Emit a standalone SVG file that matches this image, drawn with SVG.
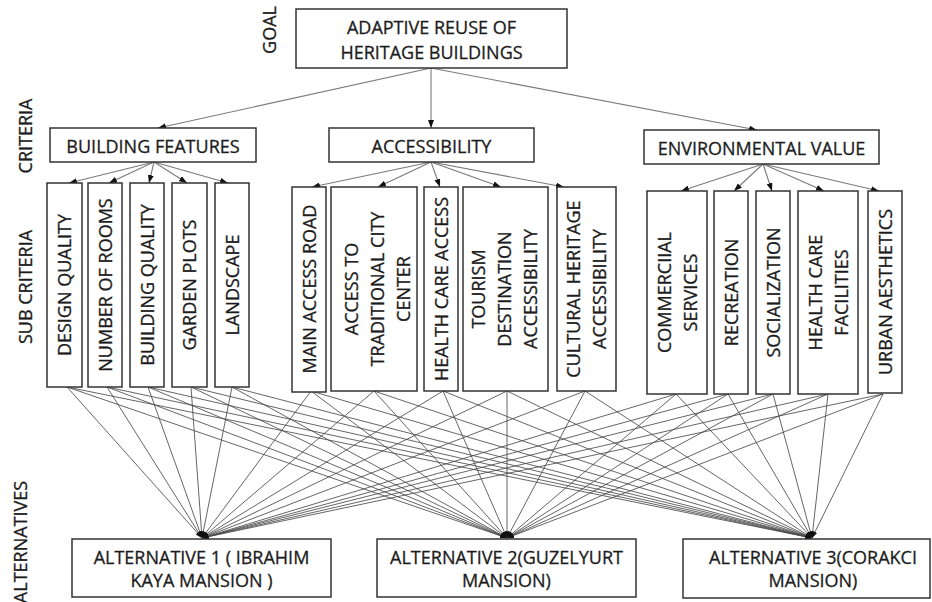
<svg xmlns="http://www.w3.org/2000/svg" width="932" height="602" viewBox="0 0 932 602">
  <defs>
    <marker id="arrow" viewBox="0 0 8 6" refX="8" refY="3" markerWidth="8" markerHeight="6" markerUnits="userSpaceOnUse" orient="auto">
      <path d="M0,0 L8,3 L0,6 z" fill="#111"/>
    </marker>
    <marker id="arrow-s" viewBox="0 0 8 6" refX="8" refY="3" markerWidth="7" markerHeight="5" markerUnits="userSpaceOnUse" orient="auto">
      <path d="M0,0 L8,3 L0,6 z" fill="#111"/>
    </marker>
  </defs>
  <style>
    text { font-family: "Open Sans", "Liberation Sans", sans-serif; font-size: 18px; fill: #1c1c1c; stroke: #1c1c1c; stroke-width: 0.3; }
    .c { text-anchor: middle; }
    .box { fill: #fff; stroke: #333; stroke-width: 1.5; }
    .up line { stroke: #7a7a7a; stroke-width: 1.1; marker-end: url(#arrow); }
    .down line { stroke: #4a4a4a; stroke-width: 0.85; marker-end: url(#arrow-s); }
  </style>
  <rect width="932" height="602" fill="#fff"/>

  <!-- level labels -->
  <g id="level-labels">
    <text class="c" transform="translate(276,30) rotate(-90)">GOAL</text>
    <text class="c" transform="translate(32,136) rotate(-90)">CRITERIA</text>
    <text class="c" transform="translate(32,287) rotate(-90)">SUB CRITERIA</text>
    <text class="c" transform="translate(27,542) rotate(-90)">ALTERNATIVES</text>
  </g>

  <!-- connectors -->
  <g id="connectors">
    <g class="up">
      <line x1="431" y1="68" x2="158" y2="128"/>
      <line x1="431" y1="68" x2="431" y2="128"/>
      <line x1="431" y1="68" x2="757" y2="130"/>
      <line x1="154" y1="162" x2="69" y2="183"/>
      <line x1="154" y1="162" x2="109" y2="183"/>
      <line x1="154" y1="162" x2="149" y2="183"/>
      <line x1="154" y1="162" x2="187" y2="183"/>
      <line x1="154" y1="162" x2="228" y2="183"/>
      <line x1="431" y1="162" x2="312" y2="187"/>
      <line x1="431" y1="162" x2="378" y2="187"/>
      <line x1="431" y1="162" x2="440" y2="187"/>
      <line x1="431" y1="162" x2="501" y2="187"/>
      <line x1="431" y1="162" x2="564" y2="187"/>
      <line x1="763" y1="164" x2="681" y2="191"/>
      <line x1="763" y1="164" x2="734" y2="191"/>
      <line x1="763" y1="164" x2="772" y2="191"/>
      <line x1="763" y1="164" x2="824" y2="191"/>
      <line x1="763" y1="164" x2="879" y2="191"/>
    </g>
    <g class="down">
      <!-- to alternative 1 -->
      <line x1="67" y1="387" x2="202" y2="538"/>
      <line x1="107" y1="387" x2="202" y2="538"/>
      <line x1="148" y1="387" x2="202" y2="538"/>
      <line x1="191" y1="387" x2="202" y2="538"/>
      <line x1="232" y1="387" x2="202" y2="538"/>
      <line x1="311" y1="391" x2="202" y2="538"/>
      <line x1="374" y1="391" x2="202" y2="538"/>
      <line x1="443" y1="391" x2="202" y2="538"/>
      <line x1="507" y1="391" x2="202" y2="538"/>
      <line x1="585" y1="391" x2="202" y2="538"/>
      <line x1="676" y1="394" x2="202" y2="538"/>
      <line x1="728" y1="394" x2="202" y2="538"/>
      <line x1="773" y1="394" x2="202" y2="538"/>
      <line x1="828" y1="394" x2="202" y2="538"/>
      <line x1="883" y1="394" x2="202" y2="538"/>
      <!-- to alternative 2 -->
      <line x1="67" y1="387" x2="507" y2="538"/>
      <line x1="107" y1="387" x2="507" y2="538"/>
      <line x1="148" y1="387" x2="507" y2="538"/>
      <line x1="191" y1="387" x2="507" y2="538"/>
      <line x1="232" y1="387" x2="507" y2="538"/>
      <line x1="311" y1="391" x2="507" y2="538"/>
      <line x1="374" y1="391" x2="507" y2="538"/>
      <line x1="443" y1="391" x2="507" y2="538"/>
      <line x1="507" y1="391" x2="507" y2="538"/>
      <line x1="585" y1="391" x2="507" y2="538"/>
      <line x1="676" y1="394" x2="507" y2="538"/>
      <line x1="728" y1="394" x2="507" y2="538"/>
      <line x1="773" y1="394" x2="507" y2="538"/>
      <line x1="828" y1="394" x2="507" y2="538"/>
      <line x1="883" y1="394" x2="507" y2="538"/>
      <!-- to alternative 3 -->
      <line x1="67" y1="387" x2="812" y2="538"/>
      <line x1="107" y1="387" x2="812" y2="538"/>
      <line x1="148" y1="387" x2="812" y2="538"/>
      <line x1="191" y1="387" x2="812" y2="538"/>
      <line x1="232" y1="387" x2="812" y2="538"/>
      <line x1="311" y1="391" x2="812" y2="538"/>
      <line x1="374" y1="391" x2="812" y2="538"/>
      <line x1="443" y1="391" x2="812" y2="538"/>
      <line x1="507" y1="391" x2="812" y2="538"/>
      <line x1="585" y1="391" x2="812" y2="538"/>
      <line x1="676" y1="394" x2="812" y2="538"/>
      <line x1="728" y1="394" x2="812" y2="538"/>
      <line x1="773" y1="394" x2="812" y2="538"/>
      <line x1="828" y1="394" x2="812" y2="538"/>
      <line x1="883" y1="394" x2="812" y2="538"/>
    </g>
  </g>

  <!-- goal -->
  <g id="goal">
    <rect class="box" x="296" y="9" width="271" height="59"/>
    <text class="c" x="431.5" y="33.5">ADAPTIVE REUSE OF</text>
    <text class="c" x="431.5" y="58.5">HERITAGE BUILDINGS</text>
  </g>

  <!-- criteria -->
  <g id="building-features">
    <rect class="box" x="50" y="128" width="206" height="34"/>
    <text class="c" x="153" y="152.5">BUILDING FEATURES</text>
  </g>
  <g id="accessibility">
    <rect class="box" x="329" y="128" width="205" height="34"/>
    <text class="c" x="431.5" y="152.5">ACCESSIBILITY</text>
  </g>
  <g id="environmental-value">
    <rect class="box" x="644" y="130" width="235" height="34"/>
    <text class="c" x="761.5" y="154.5">ENVIRONMENTAL VALUE</text>
  </g>

  <!-- sub criteria: building features -->
  <g id="design-quality">
    <rect class="box" x="47" y="183" width="35" height="204"/>
    <text class="c" transform="translate(71,285) rotate(-90)">DESIGN QUALITY</text>
  </g>
  <g id="number-of-rooms">
    <rect class="box" x="88" y="183" width="34" height="204"/>
    <text class="c" transform="translate(111.5,285) rotate(-90)">NUMBER OF ROOMS</text>
  </g>
  <g id="building-quality">
    <rect class="box" x="130" y="183" width="34" height="204"/>
    <text class="c" transform="translate(153.5,285) rotate(-90)">BUILDING QUALITY</text>
  </g>
  <g id="garden-plots">
    <rect class="box" x="172" y="183" width="35" height="204"/>
    <text class="c" transform="translate(196,285) rotate(-90)">GARDEN PLOTS</text>
  </g>
  <g id="landscape">
    <rect class="box" x="215" y="183" width="34" height="204"/>
    <text class="c" transform="translate(238.5,285) rotate(-90)">LANDSCAPE</text>
  </g>

  <!-- sub criteria: accessibility -->
  <g id="main-access-road">
    <rect class="box" x="292" y="187" width="34" height="205"/>
    <text class="c" transform="translate(315.5,289) rotate(-90)">MAIN ACCESS ROAD</text>
  </g>
  <g id="access-to-city-center">
    <rect class="box" x="331" y="187" width="86" height="204"/>
    <text class="c" transform="translate(357.5,289) rotate(-90)">ACCESS TO</text>
    <text class="c" transform="translate(383.5,289) rotate(-90)">TRADITIONAL CITY</text>
    <text class="c" transform="translate(409.5,289) rotate(-90)">CENTER</text>
  </g>
  <g id="health-care-access">
    <rect class="box" x="424" y="187" width="34" height="204"/>
    <text class="c" transform="translate(447.5,289) rotate(-90)">HEALTH CARE ACCESS</text>
  </g>
  <g id="tourism-destination">
    <rect class="box" x="463" y="187" width="85" height="204"/>
    <text class="c" transform="translate(485,289) rotate(-90)">TOURISM</text>
    <text class="c" transform="translate(511,289) rotate(-90)">DESTINATION</text>
    <text class="c" transform="translate(537,289) rotate(-90)">ACCESSIBILITY</text>
  </g>
  <g id="cultural-heritage">
    <rect class="box" x="557" y="187" width="59" height="204"/>
    <text class="c" transform="translate(579.5,289) rotate(-90)">CULTURAL HERITAGE</text>
    <text class="c" transform="translate(605.5,289) rotate(-90)">ACCESSIBILITY</text>
  </g>

  <!-- sub criteria: environmental value -->
  <g id="commercial-services">
    <rect class="box" x="647" y="191" width="60" height="203"/>
    <text class="c" transform="translate(670.5,292.5) rotate(-90)">COMMERCIIAL</text>
    <text class="c" transform="translate(696.5,292.5) rotate(-90)">SERVICES</text>
  </g>
  <g id="recreation">
    <rect class="box" x="714" y="191" width="34" height="203"/>
    <text class="c" transform="translate(737.5,292.5) rotate(-90)">RECREATION</text>
  </g>
  <g id="socialization">
    <rect class="box" x="756" y="191" width="34" height="203"/>
    <text class="c" transform="translate(779.5,292.5) rotate(-90)">SOCIALIZATION</text>
  </g>
  <g id="health-care-facilities">
    <rect class="box" x="798" y="191" width="60" height="203"/>
    <text class="c" transform="translate(821.5,292.5) rotate(-90)">HEALTH CARE</text>
    <text class="c" transform="translate(847.5,292.5) rotate(-90)">FACILITIES</text>
  </g>
  <g id="urban-aesthetics">
    <rect class="box" x="868" y="191" width="34" height="202"/>
    <text class="c" transform="translate(891.5,292) rotate(-90)">URBAN AESTHETICS</text>
  </g>

  <!-- alternatives -->
  <g id="alternative-1">
    <rect class="box" x="72" y="539" width="259" height="58"/>
    <text class="c" x="201.5" y="564">ALTERNATIVE 1 ( IBRAHIM</text>
    <text class="c" x="201.5" y="587">KAYA MANSION )</text>
  </g>
  <g id="alternative-2">
    <rect class="box" x="377" y="539" width="259" height="58"/>
    <text class="c" x="506.5" y="564">ALTERNATIVE 2(GUZELYURT</text>
    <text class="c" x="506.5" y="587">MANSION)</text>
  </g>
  <g id="alternative-3">
    <rect class="box" x="683" y="539" width="247" height="59"/>
    <text class="c" x="813" y="564">ALTERNATIVE 3(CORAKCI</text>
    <text class="c" x="813" y="587">MANSION)</text>
  </g>
</svg>
